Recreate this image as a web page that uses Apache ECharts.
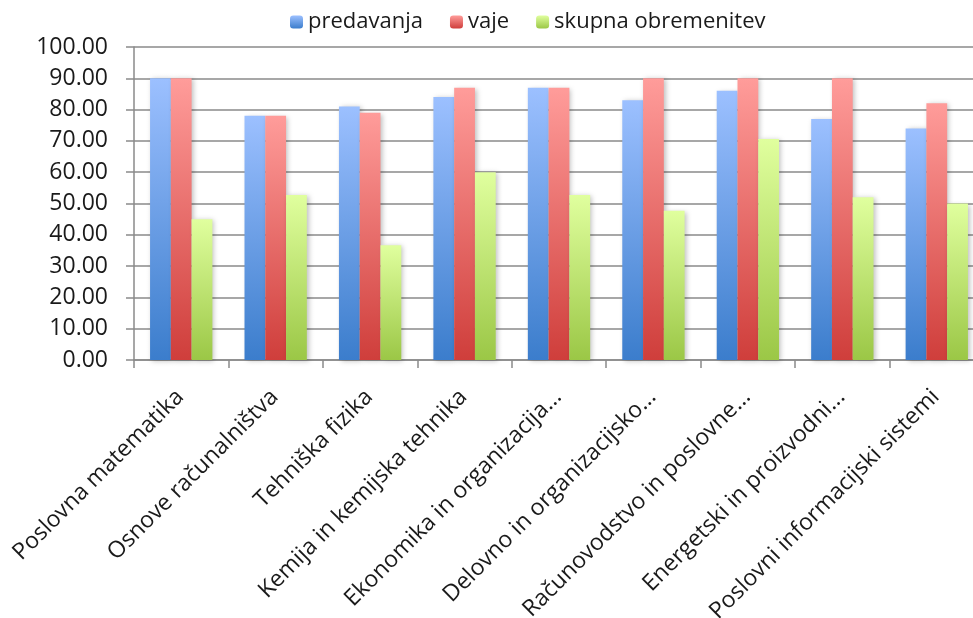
<!DOCTYPE html>
<html>
<head>
<meta charset="utf-8">
<script src="https://cdn.jsdelivr.net/npm/echarts@6/dist/echarts.min.js"></script>
<style>
html,body{margin:0;padding:0;background:#fff;}
#c{width:973px;height:618px;}
</style>
</head>
<body>
<div id="c"></div>
<script>
const categories = [
  "Poslovna matematika",
  "Osnove računalništva",
  "Tehniška fizika",
  "Kemija in kemijska tehnika",
  "Ekonomika in organizacija...",
  "Delovno in organizacijsko...",
  "Računovodstvo in poslovne...",
  "Energetski in proizvodni...",
  "Poslovni informacijski sistemi"
];
const seriesNames = ["predavanja", "vaje", "skupna obremenitev"];
const predavanja = [90, 78, 81, 84, 87, 83, 86, 77, 74];
const vaje = [90, 78, 79, 87, 87, 90, 90, 90, 82];
const skupna = [45, 52.7, 36.7, 60, 52.7, 47.7, 70.6, 52, 50];
const yTicks = {min: 0, max: 100, interval: 10};

function grad(top, bottom) {
  return new echarts.graphic.LinearGradient(0, 0, 0, 1, [
    {offset: 0, color: top},
    {offset: 1, color: bottom}
  ]);
}
const colors = [
  grad('#9cc0ff', '#3b7dcc'),
  grad('#ff9c9a', '#cf3e3b'),
  grad('#e0ff9e', '#9bc746')
];
const FONT = '"Open Sans", sans-serif';

const chart = echarts.init(document.getElementById('c'), null, {renderer: 'canvas'});
const mk = (name, data, i) => ({
  name: name,
  type: 'bar',
  data: data,
  barGap: '0%',
  barCategoryGap: '34%',
  itemStyle: {
    color: colors[i],
    shadowColor: 'rgba(0,0,0,0.25)',
    shadowBlur: 5,
    shadowOffsetX: 2,
    shadowOffsetY: 1
  },
  emphasis: {disabled: true}
});
chart.setOption({
  animation: false,
  backgroundColor: '#ffffff',
  legend: {
    left: 285,
    top: 6,
    itemWidth: 13,
    itemHeight: 13,
    itemGap: 27,
    textStyle: {fontFamily: FONT, fontSize: 22, color: '#1a1a1a'},
    data: seriesNames
  },
  grid: {left: 134, top: 47, width: 850, height: 313, containLabel: false, outerBoundsMode: 'none'},
  xAxis: {
    type: 'category',
    data: categories,
    axisLine: {show: true, lineStyle: {color: '#8a8a8a', width: 1.5}},
    axisTick: {show: true, length: 8, lineStyle: {color: '#8a8a8a', width: 1.5}},
    axisLabel: {
      interval: 0,
      rotate: 45,
      margin: 16,
      verticalAlign: 'top',
      padding: [0, 13, 0, 0],
      fontFamily: FONT,
      fontSize: 23,
      color: '#1a1a1a'
    }
  },
  yAxis: {
    type: 'value',
    min: yTicks.min,
    max: yTicks.max,
    interval: yTicks.interval,
    axisLine: {show: true, lineStyle: {color: '#8a8a8a', width: 1.5}},
    axisTick: {show: true, length: 8, lineStyle: {color: '#8a8a8a', width: 1.5}},
    splitLine: {show: true, lineStyle: {color: '#8a8a8a', width: 1.5}},
    axisLabel: {
      margin: 26,
      fontFamily: FONT,
      fontSize: 23,
      color: '#1a1a1a',
      formatter: v => v.toFixed(2)
    }
  },
  series: [
    mk(seriesNames[0], predavanja, 0),
    mk(seriesNames[1], vaje, 1),
    mk(seriesNames[2], skupna, 2)
  ]
});
</script>
</body>
</html>
